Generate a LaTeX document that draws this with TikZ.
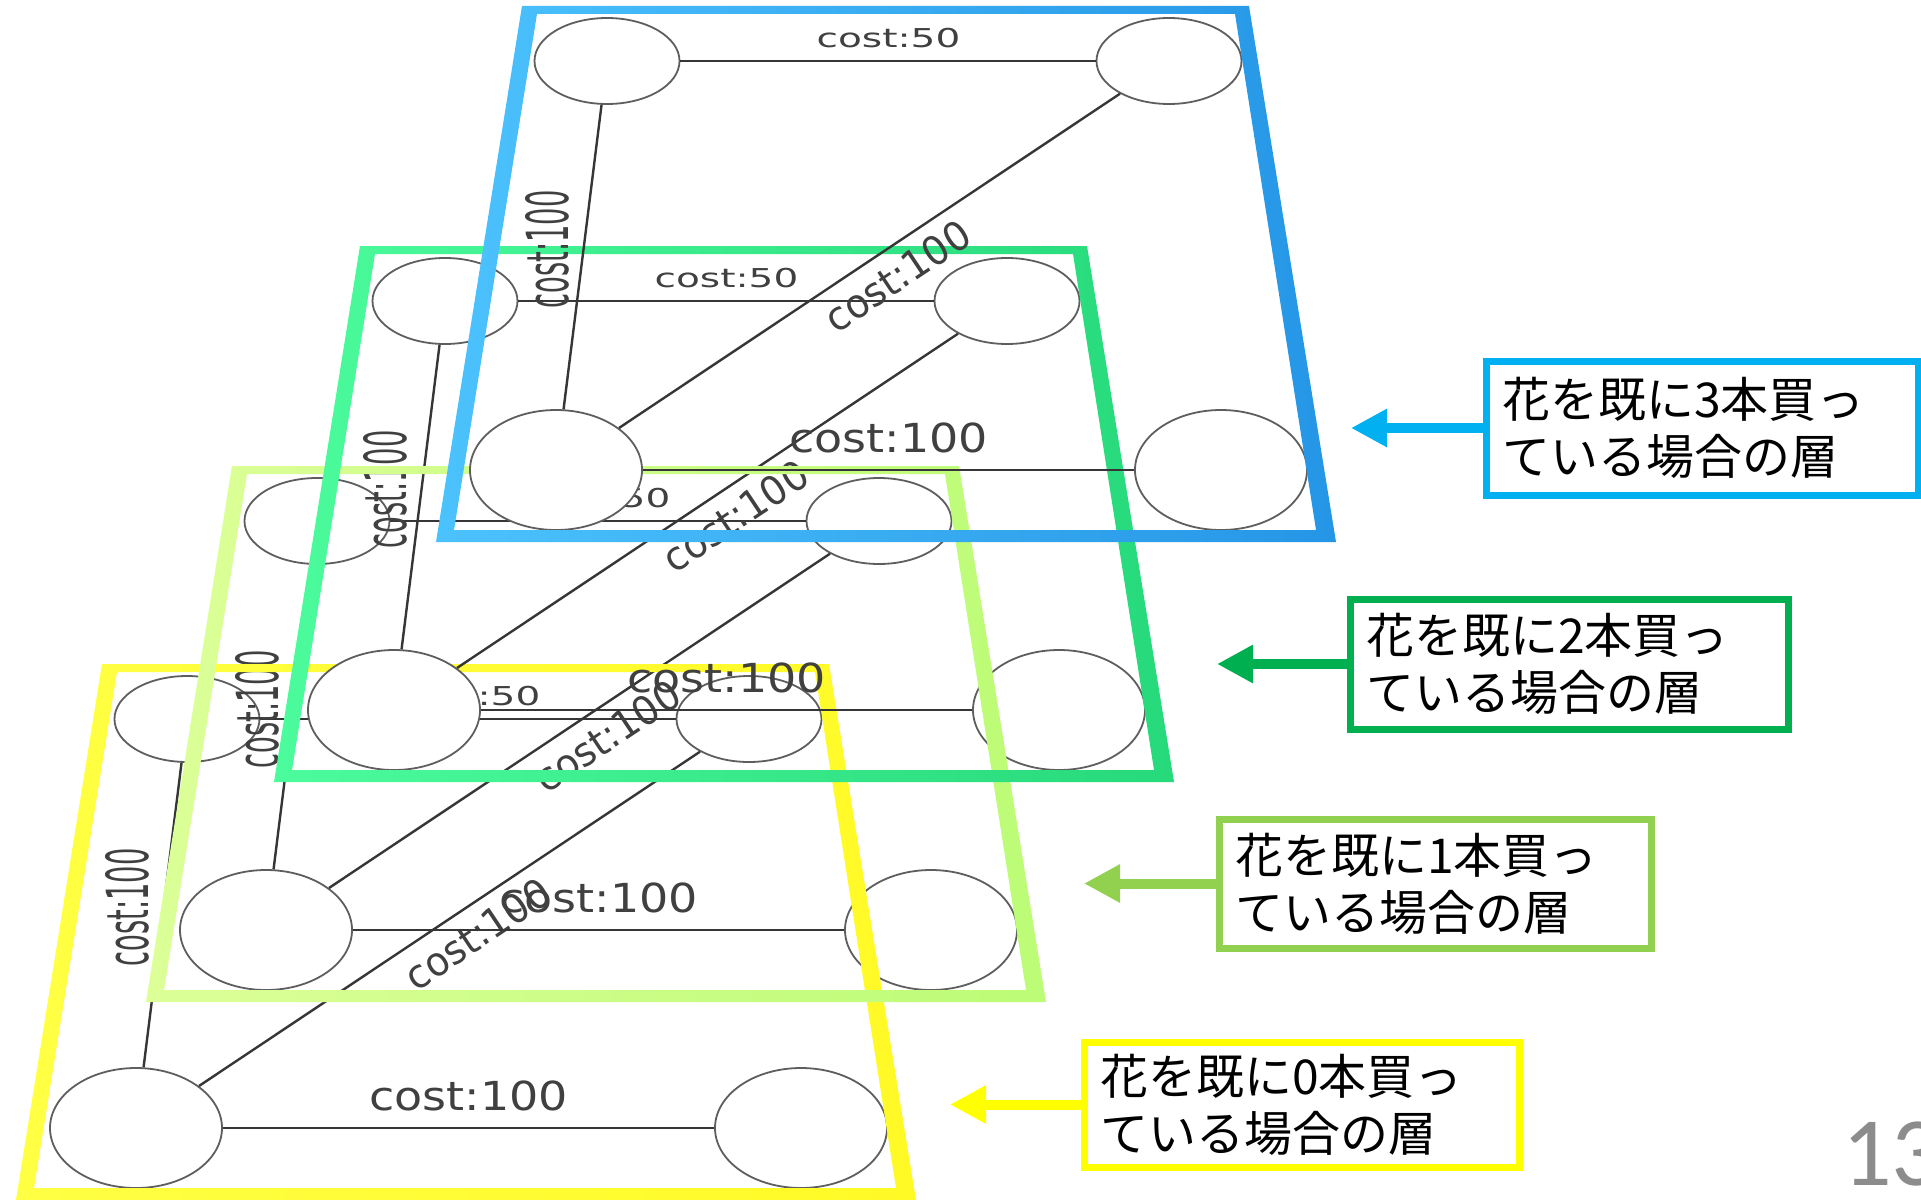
\documentclass[tikz,border=0pt]{standalone}
\usepackage{fontspec}
\usetikzlibrary{shapes.geometric,arrows.meta}
\newfontfamily\lblfont{DejaVu Sans}
\newfontfamily\cjkfont{Noto Sans CJK JP}
\newfontfamily\numfont{Carlito}
\definecolor{edgegray}{HTML}{363636}
\definecolor{ellgray}{HTML}{5E5E5E}
\definecolor{lblgray}{HTML}{404040}
\definecolor{numgray}{HTML}{8C8C8C}
\definecolor{blueL}{HTML}{4CC2FD}
\definecolor{blueR}{HTML}{2596E6}
\definecolor{greenL}{HTML}{4CFC9C}
\definecolor{greenR}{HTML}{26D97A}
\definecolor{lgL}{HTML}{DCFF98}
\definecolor{lgR}{HTML}{BCFC76}
\definecolor{yelL}{HTML}{FFFF44}
\definecolor{yelR}{HTML}{FFFA26}
\definecolor{cblue}{HTML}{00B0F0}
\definecolor{cgreen}{HTML}{00B050}
\definecolor{clg}{HTML}{92D050}
\definecolor{cyel}{HTML}{FFFF00}

\newcommand\graphlayer[3]{%
\begin{scope}[shift={(#2,#3)}]
 \node[vtx] (#1A) at (78,50) {};
 \node[vtx] (#1B) at (640,50) {};
 \node[vtxbig] (#1C) at (27,459) {};
 \node[vtxbig] (#1D) at (692,459) {};
 \draw[edge] (#1A) -- (#1B);
 \draw[edge] (#1A) -- (#1C);
 \draw[edge] (#1C) -- (#1B);
 \draw[edge] (#1C) -- (#1D);
 \node[lbl, font={\lblfont\fontsize{26}{26}\selectfont}, xscale=1.5] (#1lab) at (359.5,27.5) {cost:50};
 \node[lbl, font={\lblfont\fontsize{58}{58}\selectfont}, rotate=90, xscale=0.47] (#1lac) at (18,238.5) {cost:100};
 \node[lbl, font={\lblfont\fontsize{40}{40}\selectfont}, rotate=33.7, xscale=0.96] (#1lcb) at (368.5,265) {cost:100};
 \node[lbl, font={\lblfont\fontsize{40}{40}\selectfont}, xscale=1.15] (#1lcd) at (359.5,426.5) {cost:100};
\end{scope}}

\newcommand\layerframe[4]{%
\shade[left color=#3, right color=#4, even odd rule, shift={(#1,#2)}]
 (-7,-5) -- (720,-5) -- (807,531) -- (-93,531) -- cycle
 (8,3) -- (706,3) -- (787,519) -- (-75,519) -- cycle;}

\begin{document}
\begin{tikzpicture}[x=1pt,y=-1pt,
  vtx/.style={ellipse, draw=ellgray, fill=white, line width=1.8pt, minimum width=145pt, minimum height=86pt, inner sep=0pt},
  vtxbig/.style={ellipse, draw=ellgray, fill=white, line width=1.8pt, minimum width=172pt, minimum height=120pt, inner sep=0pt},
  edge/.style={draw=edgegray, line width=2.4pt},
  lbl/.style={inner sep=0pt, text=lblgray},
  callout/.style={rectangle, line width=7pt, fill=white, inner xsep=16pt, inner ysep=0pt, align=left, font={\cjkfont\fontsize{48}{57}\selectfont}},
  arr/.style={line width=10pt, -{Triangle[length=36pt,width=36pt]}}]
\useasboundingbox (0,0) rectangle (1921,1199);
\clip (0,0) rectangle (1921,1199);
\fill[white] (0,0) rectangle (1921,1199);

\graphlayer{y}{109}{669}
\graphlayer{l}{239}{471}
\layerframe{109}{669}{yelL}{yelR}
\graphlayer{g}{367}{251}
\layerframe{239}{471}{lgL}{lgR}
\layerframe{367}{251}{greenL}{greenR}
\graphlayer{b}{529}{11}
\layerframe{529}{11}{blueL}{blueR}

\coordinate (t3) at (1351,428);
\coordinate (t2) at (1217,664);
\coordinate (t1) at (1084,883.5);
\coordinate (t0) at (950,1104.5);

\node[callout, draw=cblue, minimum width=432pt, minimum height=134pt, text width=400pt] (b3) at (1702,428) {花を既に3本買っ\\ている場合の層};
\node[callout, draw=cgreen, minimum width=438pt, minimum height=130pt, text width=406pt] (b2) at (1569,664) {花を既に2本買っ\\ている場合の層};
\node[callout, draw=clg, minimum width=432pt, minimum height=129pt, text width=400pt] (b1) at (1435,883.5) {花を既に1本買っ\\ている場合の層};
\node[callout, draw=cyel, minimum width=435pt, minimum height=125pt, text width=403pt] (b0) at (1301.5,1104.5) {花を既に0本買っ\\ている場合の層};

\draw[arr, draw=cblue] (b3.west) -- (t3);
\draw[arr, draw=cgreen] (b2.west) -- (t2);
\draw[arr, draw=clg] (b1.west) -- (t1);
\draw[arr, draw=cyel] (b0.west) -- (t0);

\node[anchor=base west, inner sep=0pt, font={\numfont\fontsize{98}{98}\selectfont}, text=numgray] (pg) at (1842,1185) {13};
\end{tikzpicture}
\end{document}
